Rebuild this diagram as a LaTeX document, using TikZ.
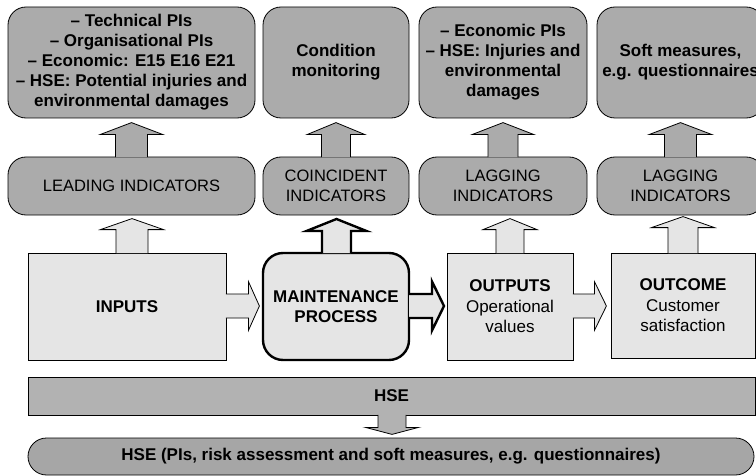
\documentclass[tikz,border=0pt]{standalone}
\usepackage{fontspec}
\setmainfont{Liberation Sans}
\usetikzlibrary{calc}

\definecolor{darkbox}{gray}{0.67}
\definecolor{lightbox}{gray}{0.9}
\definecolor{hsebar}{gray}{0.70}
\definecolor{hsebase}{gray}{0.65}

\tikzset{
  box/.style={draw, line width=0.8pt, inner sep=0pt, align=center},
  aimbox/.style={box, fill=darkbox, rounded corners=18pt, font=\fontsize{17}{20}\selectfont\bfseries},
  indbox/.style={box, fill=darkbox, rounded corners=18pt, font=\fontsize{16.5}{20}\selectfont},
  flowbox/.style={box, fill=lightbox, font=\fontsize{17}{20.5}\selectfont},
  darkarrow/.style={draw, line width=0.8pt, fill=darkbox},
  lightarrow/.style={draw, line width=0.8pt, fill=lightbox},
  thickarrow/.style={draw, line width=2.4pt, fill=lightbox},
  hsearrow/.style={draw, line width=0.8pt, fill=hsebar}
}

% block arrow: style, base, angle, shaft length, half shaft, half head, head length
\newcommand{\blockarrow}[7]{%
  \begin{scope}[shift={#2}, rotate=#3]
    \filldraw[#1] (0,-#5) -- (#4,-#5) -- (#4,-#6) -- ({#4+#7},0) -- (#4,#6) -- (#4,#5) -- (0,#5);
  \end{scope}}

\begin{document}
\begin{tikzpicture}[x=1pt, y=1pt]
  \useasboundingbox (0,0) rectangle (756,475);

  % aims
  \node[aimbox, minimum width=247pt, minimum height=111pt] (tech) at (131.5,412.5)
    {– Technical PIs\\– Organisational PIs\\– Economic: E15 E16 E21\\– HSE: Potential injuries and\\environmental damages};
  \node[aimbox, minimum width=146pt, minimum height=111pt] (cond) at (336,412.5)
    {Condition\\monitoring};
  \node[aimbox, minimum width=168pt, minimum height=111pt] (econ) at (503,412.5)
    {– Economic PIs\\– HSE: Injuries and\\environmental\\damages};
  \node[aimbox, minimum width=167pt, minimum height=111pt] (soft) at (680.5,412.5)
    {Soft measures,\\e.g. questionnaires};

  % indicators
  \node[indbox, minimum width=247pt, minimum height=58pt] (lead) at (131.5,289) {LEADING INDICATORS};
  \node[indbox, minimum width=146pt, minimum height=58pt] (coin) at (336,289) {COINCIDENT\\INDICATORS};
  \node[indbox, minimum width=168pt, minimum height=58pt] (lag) at (503,289) {LAGGING\\INDICATORS};
  \node[indbox, minimum width=167pt, minimum height=58pt] (lagb) at (680.5,289) {LAGGING\\INDICATORS};

  \foreach \n/\hs/\hh in {lead/16/31.5, coin/14.5/29, lag/15/31, lagb/16/31.5} {
    \blockarrow{darkarrow}{($(\n.north)+(0,-0.5)$)}{90}{22.5}{\hs}{\hh}{12}
  }

  % flow
  \node[flowbox, minimum width=198pt, minimum height=107pt] (inputs) at (127,168.5) {\textbf{INPUTS}};
  \node[flowbox, line width=2.4pt, rounded corners=20pt, minimum width=146pt, minimum height=107pt] (maint) at (336,168.5)
    {\textbf{MAINTENANCE}\\\textbf{PROCESS}};
  \node[flowbox, minimum width=126pt, minimum height=107pt] (outputs) at (510,168.5)
    {\textbf{OUTPUTS}\\Operational\\values};
  \node[flowbox, minimum width=144pt, minimum height=105pt] (outcome) at (683,169.5)
    {\textbf{OUTCOME}\\Customer\\satisfaction};

  \blockarrow{lightarrow}{($(inputs.north)+(5,-0.5)$)}{90}{23.5}{16}{31.5}{11}
  \blockarrow{thickarrow}{($(maint.north)+(0.5,-1.2)$)}{90}{22}{14.5}{30}{12}
  \blockarrow{lightarrow}{($(outputs.north)+(0,-0.5)$)}{90}{23.5}{14}{27}{11}
  \blockarrow{lightarrow}{($(outcome.north)+(0,-0.5)$)}{90}{25.5}{15}{31.5}{11}

  \blockarrow{lightarrow}{($(inputs.east)+(-0.5,0.5)$)}{0}{22.5}{12}{24.5}{11}
  \blockarrow{thickarrow}{($(maint.east)+(-1.2,0.5)$)}{0}{23}{12}{24.5}{12}
  \blockarrow{lightarrow}{($(outputs.east)+(-0.5,0.5)$)}{0}{21.5}{12}{24.5}{12}

  % HSE
  \node[box, fill=hsebar, minimum width=727pt, minimum height=38pt, font=\fontsize{17}{20}\selectfont\bfseries] (hse) at (391.5,79) {HSE};
  \node[box, fill=hsebase, rounded corners=18.5pt, minimum width=726pt, minimum height=37pt, font=\fontsize{17}{20}\selectfont\bfseries] (hseall) at (391,18.5)
    {HSE (PIs, risk assessment and soft measures, e.g. questionnaires)};
  \blockarrow{hsearrow}{($(hse.south)+(0.5,0.5)$)}{-90}{12.5}{14}{26.5}{7}
\end{tikzpicture}
\end{document}
